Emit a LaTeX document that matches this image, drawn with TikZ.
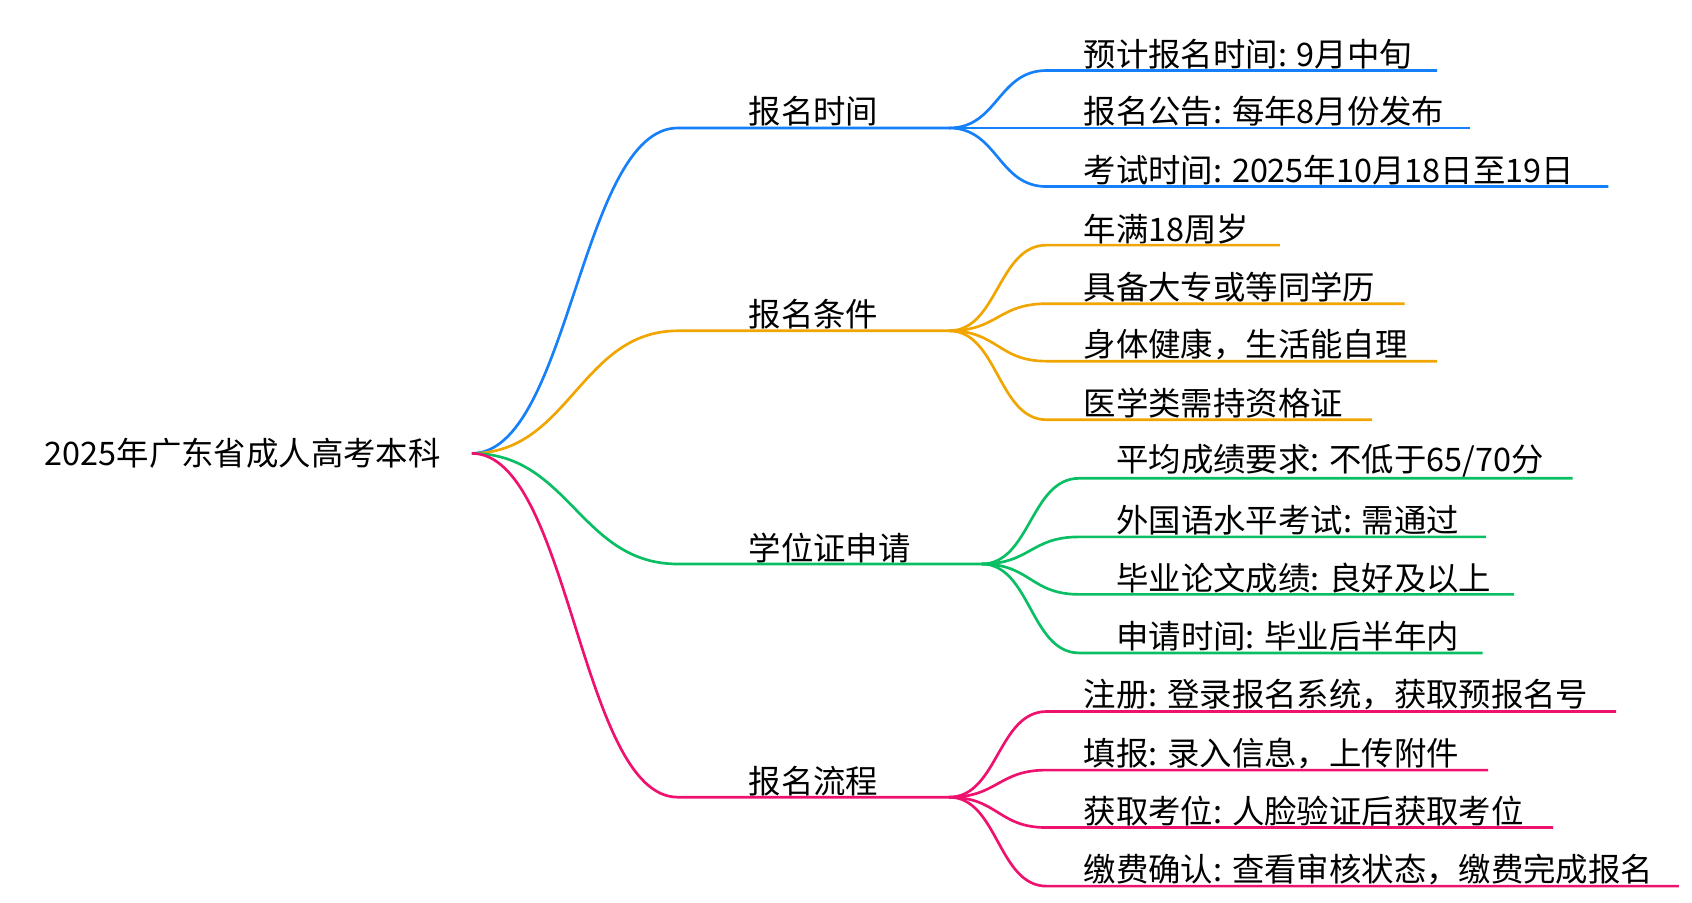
\documentclass[tikz,border=0pt]{standalone}
\usepackage{fontspec}
\setmainfont{Noto Sans CJK SC}
\definecolor{cblue}{RGB}{22,128,250}
\definecolor{corange}{RGB}{240,165,0}
\definecolor{cgreen}{RGB}{10,190,100}
\definecolor{cpink}{RGB}{238,18,110}
\begin{document}
\begin{tikzpicture}[x=0.02cm,y=-0.02cm,
  lbl/.style={anchor=south west,inner sep=0.5pt,font=\fontsize{17}{18}\selectfont},
  edge/.style={line width=1.4pt}]
\useasboundingbox (0,0) rectangle (1560,832);

\node[lbl,anchor=west] (root) at (40,418) {2025年广东省成人高考本科};
\coordinate (r) at (435,418);

% branches
\foreach \name/\txt/\y/\x/\col in {b1/报名时间/118/875/cblue, b2/报名条件/305/875/corange, b3/学位证申请/520/905/cgreen, b4/报名流程/735/875/cpink}{
  \coordinate (\name s) at (625,\y);
  \coordinate (\name e) at (\x,\y);
  \node[lbl,anchor=south] (\name) at ({(625+\x)/2},\y) {\txt};
  \draw[edge,\col] (r) .. controls +(90,0) and +(-90,0) .. (\name s) -- (\name e);
}

% leaves
\foreach \txt/\y/\x/\col/\b/\s in {
  {预计报名时间: 9月中旬}/65/1325/cblue/b1/965,
  {报名公告: 每年8月份发布}/118/1355/cblue/b1/965,
  {考试时间: 2025年10月18日至19日}/172/1483/cblue/b1/965,
  {年满18周岁}/226/1180/corange/b2/965,
  {具备大专或等同学历}/280/1295/corange/b2/965,
  {身体健康，生活能自理}/333/1325/corange/b2/965,
  {医学类需持资格证}/387/1265/corange/b2/965,
  {平均成绩要求: 不低于65/70分}/441/1450/cgreen/b3/995,
  {外国语水平考试: 需通过}/495/1370/cgreen/b3/995,
  {毕业论文成绩: 良好及以上}/548/1396/cgreen/b3/995,
  {申请时间: 毕业后半年内}/602/1367/cgreen/b3/995,
  {注册: 登录报名系统，获取预报名号}/656/1490/cpink/b4/965,
  {填报: 录入信息，上传附件}/710/1372/cpink/b4/965,
  {获取考位: 人脸验证后获取考位}/763/1432/cpink/b4/965,
  {缴费确认: 查看审核状态，缴费完成报名}/817/1548/cpink/b4/965}{
  \coordinate (ls) at (\s,\y);
  \coordinate (le) at (\x,\y);
  \node[lbl] (leaf) at ({\s+33},\y) {\txt};
  \draw[edge,\col] (\b e) .. controls +(45,0) and +(-45,0) .. (ls) -- (le);
}
\end{tikzpicture}
\end{document}
